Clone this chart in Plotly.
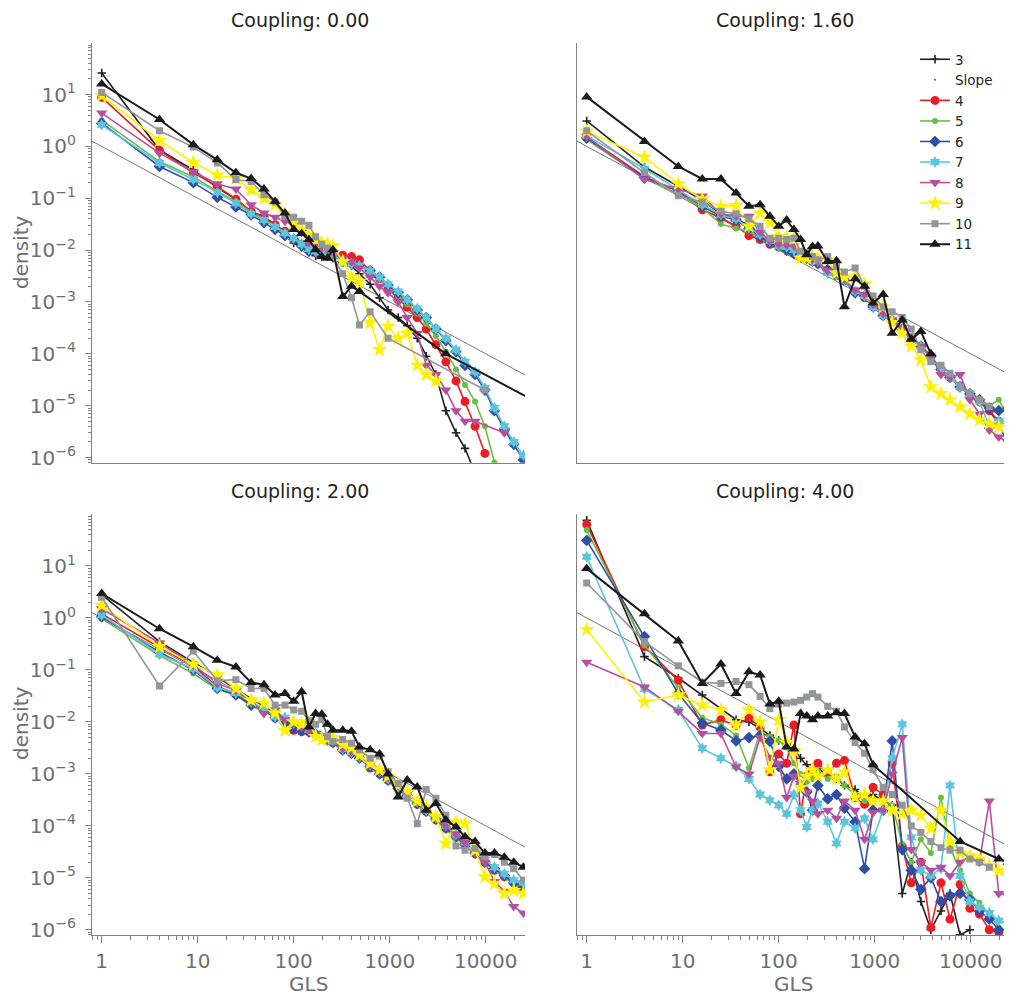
import plotly.graph_objects as go

N = None

# GLS bins (x values shared by every series)
GLS = [1, 4, 9, 16, 25, 36, 49, 64, 81, 100, 121, 144, 169, 196, 225, 256,
       324, 400, 484, 625, 784, 961, 1225, 1521, 1936, 2401, 3025, 3844, 4900,
       6084, 7744, 9801, 12321, 15625, 19600, 24649, 40000]

SLOPE_GLS = [0.5, 50000]
SLOPE_DENSITY = [2.0, 2.0e-5]

COUPLINGS = ["0.00", "1.60", "2.00", "4.00"]
SERIES = ["3", "4", "5", "6", "7", "8", "9", "10", "11"]

# ---------------- Coupling 0.00 ----------------
C000_L3 = [26, 0.85, 0.35, 0.16, 0.095, 0.056, 0.043, 0.030, 0.023, 0.0137, 0.0115, 0.0094, 0.0078, 0.0075, 0.0075, 0.007,
           6.5e-3, 5e-3, 3.5e-3, 2.2e-3, 1.2e-3, 7e-4, 5e-4, 3.5e-4, 2e-4, 9e-5, 4e-5, 8e-6, 3e-6, 1.5e-6, 5e-7, N, N, N, N, N, N]
C000_L4 = [8.8, 0.84, 0.31, 0.17, 0.096, 0.056, 0.044, 0.031, 0.023, 0.016, 0.013, 0.011, 0.0095, 0.0095, 0.009, 0.0088,
           8e-3, 7.5e-3, 6.5e-3, 4e-3, 2.8e-3, 1.8e-3, 1.2e-3, 8e-4, 5e-4, 3e-4, 1.5e-4, 7e-5, 3e-5, 1.2e-5, 4e-6, 1.2e-6, N, N, N, N, N]
C000_L5 = [3.2, 0.51, 0.26, 0.135, 0.087, 0.054, 0.040, 0.029, 0.022, 0.016, 0.013, 0.011, 0.0095, 0.009, 0.0085, 0.008,
           6.5e-3, 6e-3, 5e-3, 3.8e-3, 2.7e-3, 1.9e-3, 1.3e-3, 9e-4, 6e-4, 3.8e-4, 2.2e-4, 1.1e-4, 5e-5, 2.5e-5, 1.2e-5, 4e-6, 8e-7, N, N, N, N]
C000_L6 = [2.8, 0.41, 0.20, 0.104, 0.068, 0.048, 0.034, 0.025, 0.019, 0.016, 0.012, 0.0095, 0.009, 0.0085, 0.008, 0.0075,
           6e-3, 5.5e-3, 5e-3, 4e-3, 3e-3, 2.1e-3, 1.5e-3, 1.1e-3, 7e-4, 5e-4, 3e-4, 1.8e-4, 1.1e-4, 6e-5, 4e-5, 2e-5, 8e-6, 3.5e-6, 1.8e-6, 9e-7, N]
C000_L7 = [2.6, 0.48, 0.23, 0.13, 0.080, 0.050, 0.038, 0.028, 0.021, 0.017, 0.013, 0.0105, 0.0095, 0.009, 0.0085, 0.008,
           6e-3, 5.5e-3, 5e-3, 4e-3, 3e-3, 2.2e-3, 1.6e-3, 1.1e-3, 7.5e-4, 5e-4, 3e-4, 2e-4, 1.2e-4, 7e-5, 4.5e-5, 2.2e-5, 9e-6, 4e-6, 2e-6, 1.1e-6, N]
C000_L8 = [4.4, 0.74, 0.32, 0.19, 0.15, 0.075, 0.052, 0.043, 0.036, 0.030, 0.022, 0.014, 0.012, 0.011, 0.010, 0.009,
           7e-3, 6e-3, 4.5e-3, 3e-3, 2e-3, 1.5e-3, 1e-3, 5e-4, 2.5e-4, 6e-5, 4e-5, 2e-5, 8e-6, 5e-6, 5e-6, N, N, 3e-6, N, N, N]
C000_L9 = [9.5, 1.3, 0.49, 0.28, 0.24, 0.145, 0.10, 0.075, 0.05, 0.036, 0.025, 0.02, 0.016, 0.014, 0.013, 0.012,
           6e-3, 3e-3, 2.5e-3, 4e-4, 1.2e-4, 3.4e-4, 2e-4, 2.5e-4, 6e-5, 4e-5, 3e-5, N, N, N, N, N, N, N, N, N, N]
C000_L10 = [11, 2.0, 0.97, 0.48, 0.23, 0.21, 0.117, 0.085, 0.045, 0.043, 0.036, 0.03, 0.018, 0.013, 0.011, 0.0075,
            3.5e-3, 1.2e-3, 3.6e-4, 6.5e-4, N, 2e-4, N, N, N, N, N, N, N, N, N, 2e-5, N, N, N, N, N]
C000_L11 = [16, 3.3, 1.08, 0.55, 0.31, 0.24, 0.15, 0.087, 0.052, 0.025, 0.021, 0.016, 0.0102, 0.0075, 0.007, 0.0102,
            1.27e-3, 2.0e-3, 1.6e-3, N, N, N, N, N, N, N, N, 1.0e-4, N, N, N, N, N, N, N, N, 1e-5]

# ---------------- Coupling 1.60 ----------------
C160_L3 = [3.1, 0.40, 0.17, 0.09, 0.05, 0.04, 0.03, 0.02, 0.015, 0.012, 0.0105, 0.009, 0.008, 0.007, 0.0065, 0.0055,
           0.0035, 0.0033, 0.0026, 0.0016, 0.0013, 8e-4, 5.5e-4, 4.5e-4, 3e-4, 1.9e-4, 1.4e-4, 9e-5, 5e-5, 3.5e-5, 2.3e-5, 1.6e-5, 1.2e-5, 8e-6, 4.5e-6, 1.7e-6, N]
C160_L4 = [1.5, 0.26, 0.135, 0.06, 0.042, 0.029, 0.019, 0.016, 0.013, 0.0115, 0.0105, 0.009, 0.008, 0.007, 0.006, 0.0058,
           0.004, 0.0032, 0.0027, 0.0016, 0.0012, 8.5e-4, 5.5e-4, 4.2e-4, 3e-4, 2e-4, 1.4e-4, 8.5e-5, 5e-5, 3.6e-5, 2.4e-5, 1.6e-5, 1.2e-5, 8e-6, 5e-6, 4e-6, N]
C160_L5 = [1.35, 0.24, 0.12, 0.065, 0.032, 0.026, 0.023, 0.017, 0.013, 0.011, 0.009, 0.0085, 0.007, 0.0068, 0.006, 0.0055,
           0.0038, 0.0031, 0.0025, 0.0015, 0.0012, 8e-4, 5.5e-4, 4.5e-4, 3.1e-4, 1.9e-4, 1.5e-4, 9e-5, 5e-5, 3.6e-5, 2.5e-5, 1.8e-5, 1.4e-5, 1e-5, 1.3e-5, 6e-6, N]
C160_L6 = [1.45, 0.25, 0.14, 0.07, 0.045, 0.038, 0.026, 0.018, 0.014, 0.012, 0.01, 0.0085, 0.0075, 0.007, 0.0062, 0.0055,
           0.0042, 0.0034, 0.0026, 0.0015, 0.0013, 8e-4, 5.5e-4, 4.4e-4, 3e-4, 1.9e-4, 1.4e-4, 9e-5, 5e-5, 3.5e-5, 2.3e-5, 1.7e-5, 1.3e-5, 9e-6, 8e-6, 9e-6, N]
C160_L7 = [1.6, 0.37, 0.145, 0.075, 0.048, 0.04, 0.027, 0.02, 0.015, 0.012, 0.0115, 0.01, 0.0085, 0.0072, 0.0062, 0.006,
           0.0036, 0.0033, 0.0026, 0.0016, 0.0013, 8e-4, 5.5e-4, 4.5e-4, 3e-4, 1.9e-4, 1.4e-4, 8.5e-5, 4.8e-5, 3.6e-5, 2.3e-5, 1.7e-5, 1.2e-5, 4e-6, 5e-6, 5e-6, N]
C160_L8 = [1.55, 0.23, 0.15, 0.11, 0.05, 0.045, 0.045, 0.022, 0.015, 0.013, 0.0125, 0.012, 0.009, 0.0072, 0.0065, 0.006,
           0.004, 0.0035, 0.0027, 0.0017, 0.0014, 9e-4, 6e-4, 4.5e-4, 3.2e-4, 2.2e-4, 1.4e-4, 9e-5, 4e-5, 3.5e-5, 4e-5, 1.3e-5, 7e-6, 3.4e-6, 2.5e-6, 1.9e-6, N]
C160_L9 = [1.95, 0.62, 0.19, 0.096, 0.07, 0.072, 0.029, 0.052, 0.034, 0.018, 0.017, 0.017, 0.007, 0.007, 0.0075, 0.007,
           0.0065, 0.0036, 0.003, 0.003, 0.0022, 0.0011, 8e-4, 4e-4, 2.5e-4, 1.4e-4, 7.6e-5, 2.3e-5, 1.7e-5, 1.3e-5, 9.5e-6, 7e-6, 5.3e-6, 4.5e-6, 3.9e-6, 4e-6, N]
C160_L10 = [2.0, 0.31, 0.112, 0.085, 0.056, 0.05, 0.04, 0.029, 0.017, 0.017, 0.016, 0.017, 0.0095, 0.009, 0.0075, 0.0065,
            0.0075, 0.0048, 0.0038, 0.0045, 0.002, 0.0013, 8e-4, 6.5e-4, 5e-4, 3e-4, 1.2e-4, 7e-5, 6e-5, 4.2e-5, 2.3e-5, 1.7e-5, 1.3e-5, 9.5e-6, N, N, N]
C160_L11 = [9.0, 1.25, 0.41, 0.235, 0.235, 0.126, 0.07, 0.075, 0.045, 0.029, 0.038, 0.025, 0.016, 0.0081, 0.0118, 0.012,
            0.006, 0.0062, 8.1e-4, 0.0028, 0.002, 9.5e-4, 1.4e-3, 2.5e-4, 4.5e-4, 1.9e-4, 2.7e-4, 1.0e-4, N, N, N, N, N, N, N, N, N]

# ---------------- Coupling 2.00 ----------------
C200_L3 = [2.8, 0.35, 0.14, 0.075, 0.042, 0.028, 0.02, 0.014, 0.012, 0.0085, 0.0075, 0.0068, 0.006, 0.0052, 0.0046, 0.0041,
           0.003, 0.0026, 0.002, 0.0014, 0.00105, 8e-4, 5.5e-4, 4e-4, 2.8e-4, 2e-4, 1.4e-4, 9.5e-5, 6.5e-5, 4.5e-5, 3e-5, 2e-5, 1.5e-5, 1.1e-5, 8.5e-6, 6.5e-6, N]
C200_L4 = [1.2, 0.27, 0.12, 0.048, 0.035, 0.022, 0.017, 0.012, 0.01, 0.0069, 0.0065, 0.0065, 0.0058, 0.005, 0.0045, 0.004,
           0.0029, 0.0025, 0.0021, 0.0013, 0.001, 7.5e-4, 5.2e-4, 3.8e-4, 2.6e-4, 1.9e-4, 1.3e-4, 9e-5, 6e-5, 4.3e-5, 2.9e-5, 2e-5, 1.4e-5, 1.05e-5, 8e-6, 6e-6, N]
C200_L5 = [0.97, 0.19, 0.085, 0.042, 0.033, 0.02, 0.016, 0.012, 0.0095, 0.008, 0.007, 0.0062, 0.0056, 0.0049, 0.0044, 0.0039,
           0.0028, 0.0024, 0.002, 0.0013, 9.5e-4, 7.2e-4, 5e-4, 3.6e-4, 2.5e-4, 1.8e-4, 1.25e-4, 8.5e-5, 5.8e-5, 4.2e-5, 2.8e-5, 1.9e-5, 1.4e-5, 1e-5, 7.5e-6, 6e-6, N]
C200_L6 = [1.05, 0.22, 0.1, 0.044, 0.033, 0.021, 0.017, 0.012, 0.0095, 0.0075, 0.0068, 0.0064, 0.0057, 0.005, 0.0045, 0.004,
           0.0029, 0.0025, 0.002, 0.0014, 0.001, 7.6e-4, 5.3e-4, 3.8e-4, 2.7e-4, 1.9e-4, 1.35e-4, 9e-5, 6.2e-5, 4.4e-5, 3e-5, 2e-5, 1.5e-5, 1.1e-5, 8e-6, 6.5e-6, N]
C200_L7 = [1.13, 0.2, 0.105, 0.046, 0.036, 0.024, 0.018, 0.0125, 0.012, 0.0095, 0.0085, 0.007, 0.006, 0.0052, 0.0046, 0.0042,
           0.003, 0.0026, 0.0021, 0.0015, 0.0011, 8e-4, 5.6e-4, 4e-4, 2.9e-4, 2e-4, 1.45e-4, 1e-4, 6.8e-5, 4.8e-5, 3.2e-5, 2.2e-5, 1.6e-5, 1.2e-5, 9e-6, 8e-6, N]
C200_L8 = [1.5, 0.33, 0.125, 0.055, 0.04, 0.025, 0.0145, 0.017, 0.011, 0.0095, 0.008, 0.0068, 0.006, 0.0052, 0.0046, 0.0042,
           0.0031, 0.0027, 0.0022, 0.0015, 0.0011, 8.5e-4, 6e-4, 4.2e-4, 3e-4, 2.1e-4, 1.5e-4, 1e-4, 7e-5, 4.8e-5, 3e-5, 2e-5, 8.5e-6, 5.5e-6, 2.8e-6, 2.1e-6, N]
C200_L9 = [1.75, 0.28, 0.128, 0.08, 0.044, 0.026, 0.023, 0.015, 0.0069, 0.01, 0.009, 0.01, 0.0052, 0.0045, 0.0048, 0.005,
           0.0037, 0.0032, 0.0023, 0.0016, 0.0012, 9e-4, 6e-4, 4.5e-4, 3e-4, 2.3e-4, 1.5e-4, 4.6e-5, 1.2e-4, 1.1e-4, 3.4e-5, 1.05e-5, 7.7e-6, 5e-6, 5.7e-6, 5e-6, N]
C200_L10 = [2.5, 0.049, 0.23, 0.062, 0.065, 0.044, 0.044, 0.021, 0.021, 0.017, 0.016, 0.0105, 0.009, 0.011, 0.0052, 0.0042,
            0.0046, 0.0039, 0.0029, 0.002, 0.0022, 0.0011, 6.5e-4, 3.4e-4, 1.1e-4, 5e-4, 3.4e-4, 1.6e-4, 4.1e-5, 3.4e-5, 3.7e-5, 2.6e-5, 2.8e-5, 2e-5, 1.5e-5, 9e-6, N]
C200_L11 = [2.95, 0.62, 0.28, 0.153, 0.114, 0.057, 0.052, 0.033, 0.035, 0.025, 0.038, 0.008, 0.0145, 0.014, 0.009, 0.0069,
            0.0069, 0.0066, 0.0033, 0.0029, 0.0024, 0.001, 3.6e-4, 7.6e-4, 5.6e-4, 2e-4, 2.7e-4, 1.3e-4, 9.5e-5, 6.2e-5, 5e-5, 3e-5, 3e-5, 2.5e-5, 2e-5, 1.6e-5, N]

# ---------------- Coupling 4.00 ----------------
C400_L3 = [76, 0.18, 0.07, 0.033, 0.018, 0.011, 0.01, 0.0075, 0.0055, 0.0044, 0.0035, 0.003, 0.002, 0.0015, 0.0011, 0.0013,
           9e-4, 8e-4, 6e-4, 5e-4, 3.5e-4, 4e-4, 3e-4, 2.5e-4, 5e-6, 2e-5, 3.5e-6, 1e-6, 2.3e-6, 5e-6, 8e-7, 1e-6, N, N, N, N, N]
C400_L4 = [63, 0.28, 0.063, 0.0087, 0.011, 0.0085, 0.012, 0.0078, 0.0011, 0.0024, 0.0016, 0.0087, 1.7e-4, 9e-4, 0.0011, 0.0016,
           0.001, 0.0016, 0.0018, 3.5e-4, 2.6e-4, 5.5e-4, 4e-4, 0.0016, 4e-5, 8e-6, 2e-5, 1.1e-6, 8e-6, 1.6e-6, 7.5e-6, 2.6e-6, 2e-6, 1e-6, 9e-7, N, N]
C400_L5 = [49, 0.3, 0.045, 0.012, 0.009, 0.0055, 0.0013, 0.0065, 0.0052, 0.0044, 0.0032, 0.0016, 0.001, 7e-4, 8e-4, 0.0011,
           8e-4, 9e-4, 6e-4, 4e-4, 3e-4, 3.3e-4, 3e-4, 2.5e-4, 4.5e-5, 2e-5, 5.5e-5, 3e-5, 3.5e-4, 3.8e-5, 1.4e-5, 5e-6, 3.3e-6, 2e-6, 1.1e-6, 9e-7, N]
C400_L6 = [31, 0.44, 0.035, 0.0095, 0.007, 0.0043, 0.005, 0.0055, 0.0042, 0.0014, 8e-4, 0.001, 6e-4, 4.5e-4, 2e-4, 6e-4,
           3.3e-4, 4e-4, 2.2e-4, 1.2e-4, 1.5e-5, 2e-4, 2e-4, 0.0043, 3.5e-5, 1.4e-5, 6e-6, 1e-5, 3.5e-6, 4.5e-6, 5e-6, 3.8e-6, 2.3e-6, 1.6e-6, 1e-6, N, N]
C400_L7 = [15, 0.043, 0.017, 0.0031, 0.002, 0.0014, 8e-4, 4e-4, 3.1e-4, 2.5e-4, 1.7e-4, 4e-4, 2e-4, 9.5e-5, 2e-4, 2.7e-4,
           1.2e-4, 4.6e-5, 1.2e-4, 9e-5, 1.4e-4, 5.5e-5, 2e-4, 0.002, 0.009, 6e-5, 1.4e-5, 1.1e-5, 1.5e-5, 6e-4, 1.1e-5, 3.5e-6, 2.7e-6, 2.1e-6, 1.5e-6, 1.3e-6, N]
C400_L8 = [0.14, 0.047, 0.016, 0.006, 0.006, 0.00135, 0.001, 0.005, 0.0021, 0.0016, 3.5e-4, 9e-4, 6.5e-4, 4.5e-4, 3e-4, 1.7e-4,
           2e-4, 1.4e-4, 3e-4, 2e-4, 5.5e-5, 1.8e-4, 2e-4, 0.001, 0.005, 3.5e-5, 2e-5, 1.4e-5, 1.6e-5, 1.1e-5, 2e-5, 2.6e-5, 2e-5, 3e-4, 5e-6, 4.5e-6, N]
C400_L9 = [0.6, 0.024, 0.033, 0.021, 0.017, 0.0085, 0.017, 0.01, 0.0012, 0.011, 0.004, 0.0028, 5.5e-4, 9e-4, 0.0012, 9e-4,
           0.0012, 8e-4, 0.0011, 3.5e-4, 4e-4, 3e-4, 3e-4, 2e-4, 1.7e-4, 2e-4, 1.6e-4, 9e-5, 2e-4, 5e-5, 3e-5, 2.6e-5, 2.3e-5, 1.7e-5, 1.4e-5, 1.1e-5, N]
C400_L10 = [4.7, 0.35, 0.12, 0.058, 0.055, 0.06, 0.052, 0.031, 0.018, 0.022, 0.023, 0.024, 0.026, 0.03, 0.035, 0.03,
            0.02, 0.016, 0.008, 0.004, 0.0025, 0.0012, 5.5e-4, 4e-4, 2.5e-4, 1e-4, 7.5e-5, 5e-5, 3.8e-5, 3.4e-5, 3.4e-5, 2.3e-5, 2e-5, 1.6e-5, N, N, N]
C400_L11 = [8.9, 1.2, 0.36, 0.055, 0.13, 0.035, 0.092, 0.08, 0.022, 0.025, 0.0033, 0.003, 0.0145, 0.013, 0.011, 0.013,
            0.013, 0.015, 0.0145, 0.0051, 0.0038, 0.0015, N, N, N, N, N, N, N, N, 5e-5, N, N, N, 2.3e-5, 2e-5, N]

PANELS = [
    [C000_L3, C000_L4, C000_L5, C000_L6, C000_L7, C000_L8, C000_L9, C000_L10, C000_L11],
    [C160_L3, C160_L4, C160_L5, C160_L6, C160_L7, C160_L8, C160_L9, C160_L10, C160_L11],
    [C200_L3, C200_L4, C200_L5, C200_L6, C200_L7, C200_L8, C200_L9, C200_L10, C200_L11],
    [C400_L3, C400_L4, C400_L5, C400_L6, C400_L7, C400_L8, C400_L9, C400_L10, C400_L11],
]

STYLE = {
    "3":  dict(color="#231f20", symbol="cross-thin", size=6, lw=1.6),
    "4":  dict(color="#ed1c24", symbol="circle", size=9, lw=1.6),
    "5":  dict(color="#6cbd45", symbol="circle", size=6, lw=1.6),
    "6":  dict(color="#2e4fa3", symbol="diamond", size=9, lw=1.6),
    "7":  dict(color="#5cc5dc", symbol="hexagram", size=9, lw=1.6),
    "8":  dict(color="#b5509f", symbol="triangle-down", size=10, lw=1.6),
    "9":  dict(color="#fff200", symbol="star", size=12, lw=1.6),
    "10": dict(color="#939598", symbol="square", size=7, lw=1.6),
    "11": dict(color="#1a1a1a", symbol="triangle-up", size=10, lw=2.0),
}

# The page body adds an 8 px offset; layout positions below are screen px minus 8.
OFF = 8
W, H = 1012 - OFF, 997 - OFF
AX_GRAY = "#808285"
TXT_GRAY = "#6d6e71"
FONT = "DejaVu Sans"


def fx(px):
    return (px - OFF) / W


def fy(py):
    return 1 - (py - OFF) / H


XDOM_L = [fx(92), fx(525)]
XDOM_R = [fx(577), 1.0]
YDOM_T = [fy(462.7), fy(42.7)]
YDOM_B = [fy(935), fy(514)]

fig = go.Figure()

axis_ids = [("x", "y"), ("x2", "y2"), ("x3", "y3"), ("x4", "y4")]

for p, (xa, ya) in enumerate(axis_ids):
    first = (p == 0)
    for i, name in enumerate(SERIES):
        st = STYLE[name]
        marker = dict(symbol=st["symbol"], size=st["size"], color=st["color"])
        if st["symbol"] == "cross-thin":
            marker["line"] = dict(width=1.6, color=st["color"])
        else:
            marker["line"] = dict(width=0)
        fig.add_trace(go.Scatter(
            x=GLS, y=PANELS[p][i], mode="lines+markers", name=name,
            line=dict(color=st["color"], width=st["lw"]), marker=marker,
            connectgaps=True, showlegend=first, xaxis=xa, yaxis=ya))
        if name == "3":
            # slope reference line
            fig.add_trace(go.Scatter(
                x=SLOPE_GLS, y=SLOPE_DENSITY, mode="lines", name="Slope",
                line=dict(color="#555555", width=0.8), showlegend=False,
                xaxis=xa, yaxis=ya))
            if first:
                fig.add_trace(go.Scatter(
                    x=[None], y=[None], mode="markers", name="Slope",
                    marker=dict(size=2, color="#555555"), showlegend=True,
                    xaxis=xa, yaxis=ya))

# tick definitions
y_major = [10.0 ** e for e in range(-6, 2)]
y_text = [("10<sup>" + ("\u2212" if e < 0 else "") + str(abs(e)) + "</sup>") for e in range(-6, 2)]
y_minor = [m * 10.0 ** e for e in range(-7, 2) for m in range(2, 10)]
x_major = [1, 10, 100, 1000, 10000]
x_text = ["1", "10", "100", "1000", "10000"]
x_minor = [m * 10.0 ** e for e in range(-1, 5) for m in range(2, 10)]


def xaxis(domain, anchor, rng, show):
    d = dict(domain=domain, anchor=anchor, type="log", range=rng,
             showline=True, linecolor=AX_GRAY, linewidth=1.3, showgrid=False,
             zeroline=False, mirror=False, automargin=False)
    if show:
        d.update(tickmode="array", tickvals=x_major, ticktext=x_text,
                 ticks="outside", ticklen=7, tickwidth=1.2, tickcolor=AX_GRAY,
                 tickfont=dict(family=FONT, size=20, color=TXT_GRAY),
                 ticklabelstandoff=1,
                 minor=dict(tickmode="array", tickvals=x_minor, ticks="outside",
                            ticklen=4, tickwidth=1, tickcolor=AX_GRAY, showgrid=False))
    else:
        d.update(ticks="", showticklabels=False)
    return d


def yaxis(domain, anchor, show):
    d = dict(domain=domain, anchor=anchor, type="log", range=[-6.1, 2.0],
             showline=True, linecolor=AX_GRAY, linewidth=1.3, showgrid=False,
             zeroline=False, automargin=False)
    if show:
        d.update(tickmode="array", tickvals=y_major, ticktext=y_text,
                 ticks="outside", ticklen=6, tickwidth=1.2, tickcolor=AX_GRAY,
                 tickfont=dict(family=FONT, size=20, color=TXT_GRAY),
                 ticklabelstandoff=5,
                 minor=dict(tickmode="array", tickvals=y_minor, ticks="outside",
                            ticklen=3, tickwidth=1, tickcolor=AX_GRAY, showgrid=False))
    else:
        d.update(ticks="", showticklabels=False)
    return d


XR_L = [-0.101, 4.409]
XR_R = [-0.101, 4.43]

fig.update_layout(
    width=W, height=H, autosize=False,
    margin=dict(l=0, r=0, t=0, b=0, pad=0, autoexpand=False),
    paper_bgcolor="white", plot_bgcolor="white",
    font=dict(family=FONT, color="#231f20"),
    xaxis=xaxis(XDOM_L, "y", XR_L, False),
    yaxis=yaxis(YDOM_T, "x", True),
    xaxis2=xaxis(XDOM_R, "y2", XR_R, False),
    yaxis2=yaxis(YDOM_T, "x2", False),
    xaxis3=xaxis(XDOM_L, "y3", XR_L, True),
    yaxis3=yaxis(YDOM_B, "x3", True),
    xaxis4=xaxis(XDOM_R, "y4", XR_R, True),
    yaxis4=yaxis(YDOM_B, "x4", False),
    legend=dict(x=fx(915), y=fy(44), xanchor="left", yanchor="top",
                font=dict(family=FONT, size=13.5, color="#231f20"),
                bgcolor="rgba(0,0,0,0)", tracegroupgap=0, itemwidth=30),
    showlegend=True,
)

ann = []
title_pos = [(300, 8), (785, 8), (300, 479), (785, 479)]
for c, (px, py) in zip(COUPLINGS, title_pos):
    ann.append(dict(text="Coupling: " + c, x=fx(px), y=fy(py), xref="paper", yref="paper",
                    showarrow=False, xanchor="center", yanchor="top", borderpad=0,
                    font=dict(family=FONT, size=19, color="#231f20")))
for py in (253, 724):
    ann.append(dict(text="density", x=fx(21), y=fy(py), xref="paper", yref="paper",
                    showarrow=False, textangle=-90, xanchor="center", yanchor="middle",
                    font=dict(family=FONT, size=20, color=TXT_GRAY)))
for px in (308, 793):
    ann.append(dict(text="GLS", x=fx(px), y=fy(984), xref="paper", yref="paper",
                    showarrow=False, xanchor="center", yanchor="middle",
                    font=dict(family=FONT, size=20, color=TXT_GRAY)))
fig.update_layout(annotations=ann)

fig.write_html("out.html")
